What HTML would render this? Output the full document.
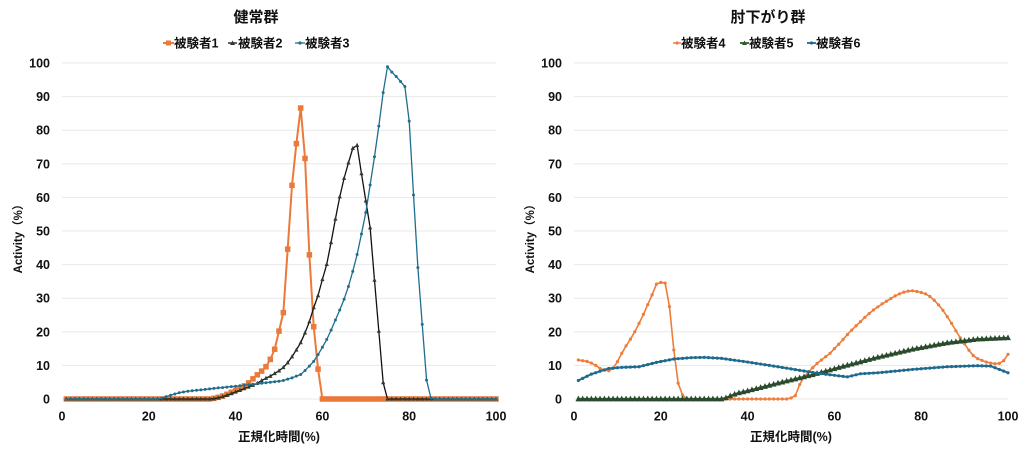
<!DOCTYPE html>
<html><head><meta charset="utf-8">
<style>
html,body{margin:0;padding:0;background:#fff;width:1024px;height:453px;overflow:hidden}
svg{display:block}
text{font-family:"Liberation Sans","Noto Sans CJK JP",sans-serif;font-weight:bold;fill:#111}
.t{font-size:15px}
.lg{font-size:12.5px}
.tk{font-size:12.5px}
.ax{font-size:12.5px}
.ay{font-size:11.5px}
</style></head><body>
<svg id="s" width="1024" height="453" xmlns="http://www.w3.org/2000/svg">
<g id="grid" stroke="#e8e8e8" stroke-width="1"></g>
<!-- titles -->
<text class="t" x="256" y="22" text-anchor="middle">健常群</text>
<text class="t" x="768" y="22" text-anchor="middle">肘下がり群</text>
<!-- legends left -->
<line x1="163" y1="43" x2="174" y2="43" stroke="#EB7A3A" stroke-width="2"/>
<rect x="166" y="40.5" width="5" height="5" fill="#EB7A3A"/>
<text class="lg" x="174" y="47.5">被験者1</text>
<line x1="228" y1="43" x2="237" y2="43" stroke="#111" stroke-width="1.3"/>
<polygon points="232.5,40.5 235,45 230,45" fill="#2d3b2f"/>
<text class="lg" x="238" y="47.5">被験者2</text>
<line x1="295" y1="43" x2="305" y2="43" stroke="#1F6E8C" stroke-width="1.3"/>
<circle cx="300" cy="43" r="1.6" fill="#1F6E8C"/>
<text class="lg" x="305" y="47.5">被験者3</text>
<!-- legends right -->
<line x1="673" y1="43" x2="681" y2="43" stroke="#EC7D3A" stroke-width="1.5"/>
<circle cx="677" cy="43" r="1.6" fill="#EC7D3A"/>
<text class="lg" x="681" y="47.5">被験者4</text>
<line x1="740" y1="43" x2="749" y2="43" stroke="#2F5A31" stroke-width="1.8"/>
<polygon points="744.5,40.5 747,45 742,45" fill="#2F5A31"/>
<text class="lg" x="749" y="47.5">被験者5</text>
<line x1="807" y1="43" x2="816" y2="43" stroke="#1E6A8D" stroke-width="1.8"/>
<circle cx="811.5" cy="43" r="1.6" fill="#1E6A8D"/>
<text class="lg" x="816" y="47.5">被験者6</text>
<!-- y tick labels -->
<g text-anchor="end">
<text class="tk" x="50" y="403.5">0</text>
<text class="tk" x="50" y="369.9">10</text>
<text class="tk" x="50" y="336.3">20</text>
<text class="tk" x="50" y="302.7">30</text>
<text class="tk" x="50" y="269.1">40</text>
<text class="tk" x="50" y="235.5">50</text>
<text class="tk" x="50" y="201.9">60</text>
<text class="tk" x="50" y="168.3">70</text>
<text class="tk" x="50" y="134.7">80</text>
<text class="tk" x="50" y="101.1">90</text>
<text class="tk" x="50" y="67.5">100</text>
<text class="tk" x="562" y="403.5">0</text>
<text class="tk" x="562" y="369.9">10</text>
<text class="tk" x="562" y="336.3">20</text>
<text class="tk" x="562" y="302.7">30</text>
<text class="tk" x="562" y="269.1">40</text>
<text class="tk" x="562" y="235.5">50</text>
<text class="tk" x="562" y="201.9">60</text>
<text class="tk" x="562" y="168.3">70</text>
<text class="tk" x="562" y="134.7">80</text>
<text class="tk" x="562" y="101.1">90</text>
<text class="tk" x="562" y="67.5">100</text>
</g>
<!-- x tick labels -->
<g text-anchor="middle">
<text class="tk" x="62" y="420.5">0</text>
<text class="tk" x="148.8" y="420.5">20</text>
<text class="tk" x="235.6" y="420.5">40</text>
<text class="tk" x="322.4" y="420.5">60</text>
<text class="tk" x="409.2" y="420.5">80</text>
<text class="tk" x="496" y="420.5">100</text>
<text class="tk" x="574" y="420.5">0</text>
<text class="tk" x="660.8" y="420.5">20</text>
<text class="tk" x="747.6" y="420.5">40</text>
<text class="tk" x="834.4" y="420.5">60</text>
<text class="tk" x="921.2" y="420.5">80</text>
<text class="tk" x="1008" y="420.5">100</text>
</g>
<!-- axis titles -->
<text class="ax" x="279" y="441" text-anchor="middle">正規化時間(%)</text>
<text class="ax" x="791" y="441" text-anchor="middle">正規化時間(%)</text>
<text class="ay" transform="translate(22,236) rotate(-90)" text-anchor="middle">Activity（%）</text>
<text class="ay" transform="translate(534,236) rotate(-90)" text-anchor="middle">Activity（%）</text>
<g id="series"></g>
</svg>
<script>
(function(){
var NS="http://www.w3.org/2000/svg";
var grid=document.getElementById('grid'), ser=document.getElementById('series');
function el(tag,attrs,parent){var e=document.createElementNS(NS,tag);for(var k in attrs)e.setAttribute(k,attrs[k]);(parent||ser).appendChild(e);return e;}
for(var v=0;v<=100;v+=10){var y=399-3.36*v;
 el('line',{x1:62,x2:496,y1:y,y2:y},grid);
 el('line',{x1:574,x2:1008,y1:y,y2:y},grid);}
function interp(c){var out=[];for(var i=1;i<=100;i++){var v=0;
 for(var j=0;j<c.length-1;j++){if(i>=c[j][0]&&i<=c[j+1][0]){var t=(c[j+1][0]==c[j][0])?0:(i-c[j][0])/(c[j+1][0]-c[j][0]);v=c[j][1]+t*(c[j+1][1]-c[j][1]);break;}}
 if(i>c[c.length-1][0])v=c[c.length-1][1];
 out.push(v);}return out;}
function draw(x0,ctrl,o){var d=interp(ctrl),pts=[];
 for(var i=0;i<100;i++){pts.push([x0+4.34*(i+1),399-3.36*d[i]]);}
 el('polyline',{points:pts.map(function(p){return p[0].toFixed(2)+','+p[1].toFixed(2)}).join(' '),fill:'none',stroke:o.line,'stroke-width':o.w,'stroke-linejoin':'round'});
 var g=el('g',{fill:o.mk});
 pts.forEach(function(p){
  if(o.m=='sq'){el('rect',{x:p[0]-o.s/2,y:p[1]-o.s/2,width:o.s,height:o.s},g);}
  else if(o.m=='tri'){var s=o.s;el('polygon',{points:p[0]+','+(p[1]-s*0.6)+' '+(p[0]+s/2)+','+(p[1]+s*0.4)+' '+(p[0]-s/2)+','+(p[1]+s*0.4)},g);}
  else {el('circle',{cx:p[0],cy:p[1],r:o.s},g);}
 });}
var s1=[[1,0],[34,0],[35,0.2],[36,0.5],[37,0.9],[38,1.4],[39,2.0],[40,2.6],[41,3.2],[42,3.9],[43,4.8],[44,6.0],[45,7.2],[46,8.3],[47,9.6],[48,11.8],[49,14.8],[50,20.2],[51,25.7],[52,44.6],[53,63.6],[54,76],[55,86.6],[56,71.6],[57,42.9],[58,21.5],[59,8.9],[60,0],[100,0]];
var s2=[[1,0],[34,0],[35,0.1],[36,0.35],[37,0.7],[38,1.1],[39,1.6],[40,2.1],[41,2.6],[42,3.1],[43,3.6],[44,4.1],[45,4.7],[46,5.5],[47,6.2],[48,6.8],[49,7.6],[50,8.4],[51,9.4],[52,10.8],[53,12.6],[54,14.6],[55,16.8],[56,19.7],[57,23.0],[58,27.2],[59,30.8],[60,35.6],[61,40.1],[62,46.6],[63,53.6],[64,60.2],[65,65.7],[66,70.3],[67,74.6],[68,75.5],[69,67.1],[70,59],[71,51],[72,35.4],[73,20.2],[74,4.9],[75,0],[100,0]];
var s3=[[1,0],[22,0],[23,0.3],[24,0.7],[25,1.1],[26,1.5],[27,1.85],[28,2.1],[29,2.3],[30,2.45],[31,2.6],[32,2.7],[33,2.85],[34,3.0],[35,3.15],[36,3.3],[37,3.4],[38,3.55],[39,3.7],[40,3.8],[41,3.95],[42,4.1],[43,4.25],[44,4.4],[45,4.55],[46,4.7],[47,4.85],[48,5.0],[49,5.15],[50,5.3],[51,5.5],[52,5.9],[53,6.3],[54,6.8],[55,7.3],[56,8.5],[57,9.8],[58,11.2],[59,13.2],[60,15.4],[61,17.7],[62,20.5],[63,23.5],[64,26.5],[65,29.7],[66,33.5],[67,38],[68,43],[69,49.1],[70,55.5],[71,63.7],[72,72.1],[73,81.2],[74,91.2],[75,98.9],[76,97.3],[77,96],[78,94.5],[79,93],[80,82.7],[81,60.7],[82,39.1],[83,22.2],[84,5.6],[85,0.3],[86,0],[100,0]];
var s4=[[1,11.6],[2,11.4],[3,11.2],[4,10.7],[5,10.0],[6,9.1],[7,8.6],[8,8.4],[9,9.1],[10,11.1],[11,13.6],[12,15.8],[13,17.8],[14,20],[15,22.5],[16,25.2],[17,28.1],[18,31],[19,34.2],[20,34.7],[21,34.5],[22,27.5],[23,14.6],[24,4.7],[25,1.2],[26,0],[49,0],[50,0.3],[51,1.0],[52,4.3],[53,6.6],[54,8.0],[55,9.3],[56,10.6],[57,11.6],[58,12.6],[59,13.6],[60,15.0],[61,16.3],[62,17.7],[63,19.2],[64,20.5],[65,21.8],[66,23.0],[67,24.3],[68,25.4],[69,26.5],[70,27.4],[71,28.3],[72,29.1],[73,29.9],[74,30.7],[75,31.3],[76,31.8],[77,32.1],[78,32.2],[79,32.0],[80,31.7],[81,31.3],[82,30.5],[83,29.4],[84,28],[85,26.4],[86,24.5],[87,22.5],[88,20.3],[89,18.2],[90,16.4],[91,14.5],[92,12.9],[93,12.0],[94,11.5],[95,11.0],[96,10.7],[97,10.5],[98,10.6],[99,11.4],[100,13.3]];
var s5=[[1,0],[34,0],[35,0.3],[36,0.9],[37,1.4],[38,1.8],[39,2.1],[40,2.4],[47,4.7],[55,7.2],[62,9.7],[70,12.4],[78,14.8],[86,16.7],[93,17.8],[100,18.2]];
var s6=[[1,5.5],[4,7.4],[8,9.1],[11,9.4],[15,9.6],[19,10.9],[23,11.9],[27,12.3],[30,12.4],[34,12.1],[40,11],[47,9.6],[55,7.9],[59,7.2],[63,6.6],[66,7.5],[70,7.8],[78,8.8],[86,9.6],[93,9.9],[96,9.8],[100,7.8]];
draw(62,s1,{line:'#EB7A3A',w:2,mk:'#EB7A3A',m:'sq',s:5.5});
draw(62,s2,{line:'#111',w:1.3,mk:'#2d3b2f',m:'tri',s:4.2});
draw(62,s3,{line:'#1F6E8C',w:1.3,mk:'#1F6E8C',m:'c',s:1.5});
draw(574,s4,{line:'#EC7D3A',w:1.6,mk:'#EC7D3A',m:'c',s:1.6});
draw(574,s5,{line:'#2F5A31',w:2.2,mk:'#2B4A2D',m:'tri',s:5.8});
draw(574,s6,{line:'#1E6A8D',w:2,mk:'#1E6A8D',m:'c',s:1.6});
})();
</script>
</body></html>
